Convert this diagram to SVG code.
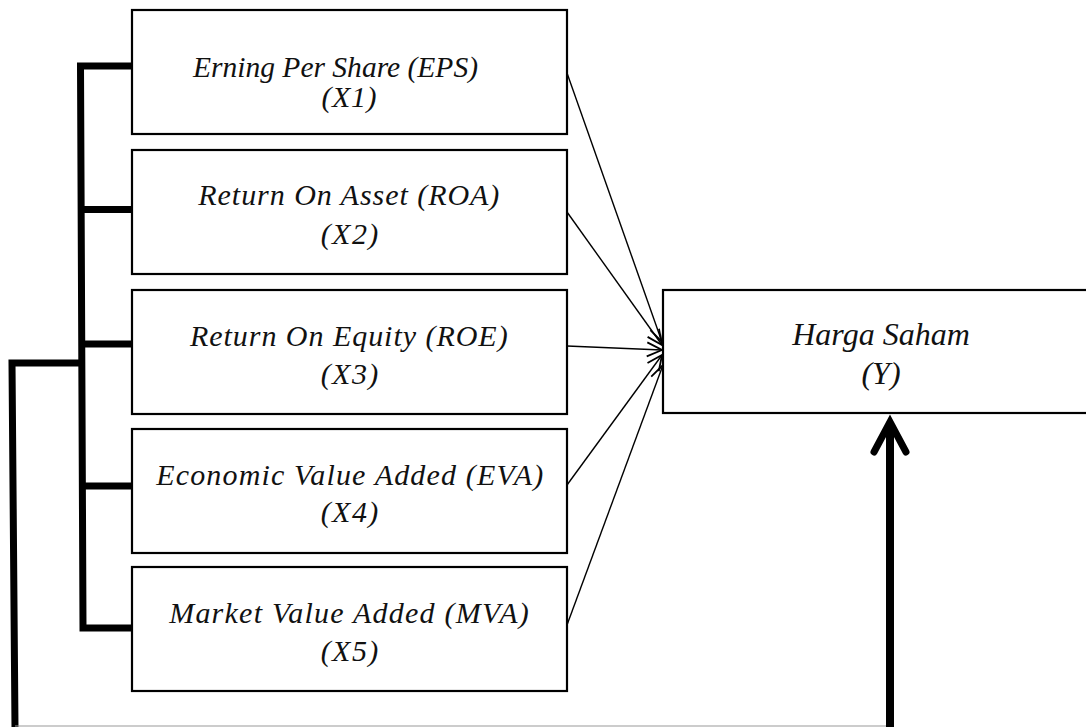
<svg xmlns="http://www.w3.org/2000/svg" width="1086" height="727" viewBox="0 0 1086 727">
<style>
  .box { fill: #ffffff; stroke: #000000; stroke-width: 2.2; }
  .t { font-family: "Liberation Serif", "Times New Roman", serif; font-style: italic; font-size: 30px; fill: #111111; text-anchor: middle; }
  .ty { font-size: 32px; }
  .thick { fill: none; stroke: #000000; stroke-width: 7; stroke-linejoin: miter; }
  .arr { fill: none; stroke: #000000; stroke-width: 1.4; marker-end: url(#open); }
</style>
<defs>
  <marker id="open" markerUnits="userSpaceOnUse" markerWidth="20" markerHeight="20" refX="16" refY="8" orient="auto" viewBox="0 0 20 16">
    <path d="M1,1 L16,8 L1,15" fill="none" stroke="#000000" stroke-width="1.8"/>
  </marker>
</defs>
<rect width="1086" height="727" fill="#ffffff"/>

<g id="connectors">
  <path class="thick" d="M132,66 L80.5,66 L83,628 L132,628"/>
  <line class="thick" x1="81" y1="209.5" x2="132" y2="209.5"/>
  <line class="thick" x1="81.5" y1="344" x2="132" y2="344"/>
  <line class="thick" x1="82" y1="486" x2="132" y2="486"/>
  <path class="thick" d="M82,363 L12,363 L15,727"/>
  <line x1="15" y1="726" x2="890" y2="726" stroke="#9a9a9a" stroke-width="1.2"/>
  <line x1="890" y1="727" x2="890" y2="424" stroke="#000000" stroke-width="8"/>
  <path d="M874,452 L890,422 L906,452" fill="none" stroke="#000000" stroke-width="7" stroke-linecap="round" stroke-linejoin="miter"/>
  <line class="arr" x1="567" y1="73" x2="662" y2="342"/>
  <line class="arr" x1="567" y1="212" x2="662" y2="345"/>
  <line class="arr" x1="567" y1="346" x2="662" y2="350"/>
  <line class="arr" x1="567" y1="485" x2="662" y2="355"/>
  <line class="arr" x1="567" y1="625" x2="663" y2="365"/>
</g>

<g id="x1">
  <rect class="box" x="132" y="10" width="435" height="124"/>
  <text class="t" x="335.5" y="77" textLength="285" lengthAdjust="spacingAndGlyphs">Erning Per Share (EPS)</text>
  <text class="t" x="349" y="107" textLength="55">(X1)</text>
</g>
<g id="x2">
  <rect class="box" x="132" y="150" width="435" height="124"/>
  <text class="t" x="348.8" y="205" textLength="301">Return On Asset (ROA)</text>
  <text class="t" x="349.5" y="243.5" textLength="57.6">(X2)</text>
</g>
<g id="x3">
  <rect class="box" x="132" y="290" width="435" height="124"/>
  <text class="t" x="348.8" y="346" textLength="317.7">Return On Equity (ROE)</text>
  <text class="t" x="349.5" y="384" textLength="57.6">(X3)</text>
</g>
<g id="x4">
  <rect class="box" x="132" y="429" width="435" height="124"/>
  <text class="t" x="349.7" y="484.5" textLength="387">Economic Value Added (EVA)</text>
  <text class="t" x="349.5" y="522" textLength="57.6">(X4)</text>
</g>
<g id="x5">
  <rect class="box" x="132" y="567" width="435" height="124"/>
  <text class="t" x="349" y="622.5" textLength="359.7">Market Value Added (MVA)</text>
  <text class="t" x="349.5" y="660.5" textLength="57.6">(X5)</text>
</g>
<g id="y">
  <rect class="box" x="663" y="290" width="440" height="123"/>
  <text class="t ty" x="881" y="345">Harga Saham</text>
  <text class="t ty" x="881" y="384">(Y)</text>
</g>
</svg>
